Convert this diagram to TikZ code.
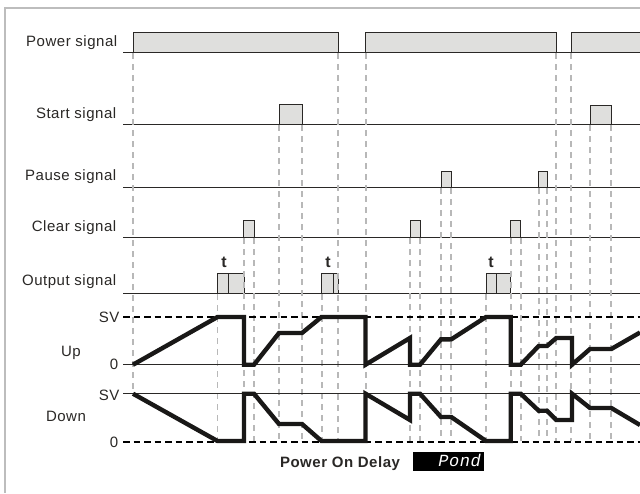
\documentclass[tikz,border=0pt]{standalone}
\usepackage{fontspec}
\setmainfont{Liberation Sans}
\newfontfamily\lblfont[LetterSpace=3.5]{Liberation Sans}
\newfontfamily\pondfont[LetterSpace=3]{Liberation Mono}
\definecolor{framegray}{HTML}{BDBDBD}
\definecolor{dashgray}{HTML}{B8B8B8}
\definecolor{pulsefill}{HTML}{DFDFDD}
\definecolor{ink}{HTML}{2A2826}
\tikzset{
  x=1pt,y=-1pt,
  framestyle/.style={draw=framegray,line width=1.6pt},
  guide/.style={draw=dashgray,line width=1.7pt,dash pattern=on 6pt off 5pt},
  baseline rule/.style={draw=ink,line width=1pt},
  pulse/.style={draw=ink,line width=1pt,fill=pulsefill},
  levelsolid/.style={draw=ink,line width=1pt},
  leveldash/.style={draw=black,line width=1.5pt,dash pattern=on 6.5pt off 4pt},
  ramp/.style={draw=ink!60!black,line width=4.4pt,miter limit=10},
  label/.style={inner sep=0pt,anchor=base east,text=ink,font=\lblfont\fontsize{15}{16}\selectfont},
  midlabel/.style={inner sep=0pt,anchor=base,text=ink,font=\lblfont\fontsize{15}{16}\selectfont},
  tlabel/.style={inner sep=0pt,anchor=base,text=ink,font=\bfseries\fontsize{16}{16}\selectfont},
}
\begin{document}
\begin{tikzpicture}
\useasboundingbox (0,0) rectangle (640,493);
\fill[white] (0,0) rectangle (640,493);
% frame
\draw[framestyle] (5,493) -- (5,8) -- (640,8);
% signal base lines
\foreach \y in {52,124.5,187,237.5,293.5}
  \draw[baseline rule] (123,\y) -- (640,\y);
% power pulses
\draw[pulse] (133,52) -- (133,32) -- (338,32) -- (338,52);
\draw[pulse] (365.5,52) -- (365.5,32) -- (556.3,32) -- (556.3,52);
\draw[pulse] (571,52) -- (571,32) -- (640,32) -- (640,52);
% start pulses
\draw[pulse] (279,124.5) rectangle (302,104);
\draw[pulse] (590,124.5) rectangle (611.3,105);
% pause pulses
\draw[pulse] (441,187) rectangle (451.3,171.5);
\draw[pulse] (538.7,187) rectangle (547,171.5);
% clear pulses
\draw[pulse] (243.5,237.5) rectangle (254,220);
\draw[pulse] (410,237.5) rectangle (420.5,220.5);
\draw[pulse] (510.7,237.5) rectangle (520.7,220);
% output pulses
\draw[pulse] (217.5,293.5) rectangle (244,273.5);
\draw[baseline rule] (228.7,273.5) -- (228.7,293.5);
\draw[pulse] (321.5,293.5) rectangle (338,273.5);
\draw[baseline rule] (333.3,273.5) -- (333.3,293.5);
\draw[pulse] (486,293.5) rectangle (510.7,273.5);
\draw[baseline rule] (496.3,273.5) -- (496.3,293.5);
% guides: x / first y / last y
\foreach \x/\a/\b in {133/53/393,217.5/294/441,243.8/238/441,254/238/441,279/125/441,302/125/441,
  321.8/294/441,338/53/441,365.8/53/441,410/238/441,420/238/441,441/188/441,451.3/188/441,
  486/294/441,511/238/441,521/238/441,539/188/441,547/188/441,556/53/441,571/53/441,590/125/441,611/125/441}
  \draw[guide] (\x,\a) -- (\x,\b);
% level lines
\draw[leveldash] (123,317) -- (640,317);
\draw[levelsolid] (123,364.7) -- (640,364.7);
\draw[levelsolid] (123,393.7) -- (640,393.7);
\draw[leveldash] (123,442) -- (640,442);
% ramps
\draw[ramp] (133,364.7) -- (217.5,317) -- (244,317) -- (244,364.7) -- (254,364.7) -- (279,333) -- (302,333)
  -- (321.5,317) -- (365.5,317) -- (365.5,364.7) -- (410,338) -- (410,364.7) -- (420,364.7) -- (441,339.3)
  -- (451.3,339.3) -- (486,317) -- (510.7,317) -- (510.7,364.7) -- (520.7,364.7) -- (538.7,346) -- (547,346)
  -- (556.3,338) -- (572,338) -- (572,364.7) -- (590,349) -- (611.3,349) -- (640,332.5);
\draw[ramp] (133,393.7) -- (217.5,441) -- (244,441) -- (244,393.7) -- (254,393.7) -- (279,424) -- (302,424)
  -- (321.5,441) -- (365.5,441) -- (365.5,393.7) -- (410,420) -- (410,393.7) -- (420,393.7) -- (441,417)
  -- (451.3,417) -- (486,441) -- (510.7,441) -- (510.7,393.7) -- (520.7,393.7) -- (538.7,410.7) -- (547,410.7)
  -- (556.3,420) -- (572,420) -- (572,393.7) -- (590,408) -- (611.3,408) -- (640,425);
% labels
\node[label] (power) at (117.5,46.5) {Power signal};
\node[label] (start) at (116.5,118.3) {Start signal};
\node[label] (pause) at (116.5,180) {Pause signal};
\node[label] (clear) at (116.5,231) {Clear signal};
\node[label] (output) at (116.5,285) {Output signal};
\node[label] (sv1) at (119.5,322) {SV};
\node[label] (z1) at (118.5,369) {0};
\node[label] (sv2) at (119.5,400.5) {SV};
\node[label] (z2) at (118.5,447) {0};
\node[midlabel] (up) at (71,356.7) {Up};
\node[midlabel] (down) at (66,421.7) {Down};
\node[tlabel] (t1) at (224,267) {t};
\node[tlabel] (t2) at (328,267) {t};
\node[tlabel] (t3) at (491,267) {t};
\node[inner sep=0pt,anchor=base,text=ink,font=\lblfont\bfseries\fontsize{15}{16}\selectfont] (pod) at (340,467) {Power On Delay};
\fill[black] (413,452) rectangle (483.7,470.7);
\node[inner sep=0pt,anchor=base east,text=white,font=\pondfont\itshape\fontsize{17}{18}\selectfont] (pond) at (481,466.5) {Pond};
\end{tikzpicture}
\end{document}
